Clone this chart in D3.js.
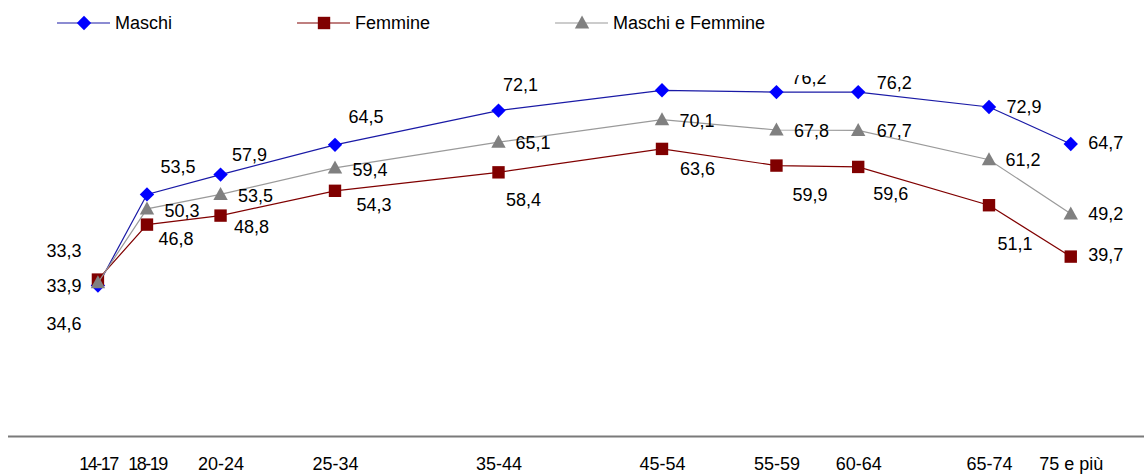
<!DOCTYPE html>
<html>
<head>
<meta charset="utf-8">
<script src="https://cdn.jsdelivr.net/npm/d3@7"></script>
<style>
  html, body { margin: 0; padding: 0; background: #fff; }
  svg { display: block; }
  text { font-family: "Liberation Sans", Arial, sans-serif; font-size: 18px; fill: #000; }
</style>
</head>
<body>
<svg id="chart" width="1144" height="476"></svg>
<script>
// Age classes and the centre of each class on the age axis
const classes = ["14-17", "18-19", "20-24", "25-34", "35-44", "45-54", "55-59", "60-64", "65-74", "75 e più"];
const classCentre = [15.5, 18.5, 23, 30, 40, 50, 57, 62, 70, 75];

// Percentages by class
const maschi = [33.3, 53.5, 57.9, 64.5, 72.1, 76.6, 76.2, 76.2, 72.9, 64.7];
const femmine = [34.6, 46.8, 48.8, 54.3, 58.4, 63.6, 59.9, 59.6, 51.1, 39.7];
const totale = [33.9, 50.3, 53.5, 59.4, 65.1, 70.1, 67.8, 67.7, 61.2, 49.2];

// Where each value label sits relative to its marker (pixels, label centre)
const labelNudge = {
  maschi:  [[-34, -35], [31, -28], [29, -20], [31, -28], [22, -26], [31, -28], [32.5, -15], [36, -10], [35, 0], [35, -1]],
  femmine: [[-34, 44], [29, 14], [31, 11], [39, 14], [25, 27], [35.5, 20], [33.5, 28.5], [32.5, 27], [26, 38.5], [35, -2.4]],
  totale:  [[-34, 3], [35, 1.5], [35, 1], [35, 1.5], [34.5, 0], [35, 1], [35, 1], [36, 0.5], [34, 0], [35, 0]]
};

const series = [
  { key: "maschi",  name: "Maschi",            values: maschi,  line: "#1a1aa6", fill: "#0000ff", symbol: "diamond" },
  { key: "femmine", name: "Femmine",           values: femmine, line: "#800000", fill: "#800000", symbol: "square" },
  { key: "totale",  name: "Maschi e Femmine",  values: totale,  line: "#9a9a9a", fill: "#808080", symbol: "triangle" }
];

const svg = d3.select("#chart");
const plotTop = 75, plotBottom = 435.5;

const x = d3.scaleLinear().domain([10, 80]).range([8, 1152.5]);
const y = d3.scaleLinear().domain([0, 80]).range([plotBottom, plotTop]);

const it = d3.formatLocale({ decimal: ",", thousands: ".", grouping: [3], currency: ["€", ""] });
const fmt = it.format(".1f");

// Marker shapes
function markerPath(kind) {
  if (kind === "diamond") return "M0,-7.2L7.2,0L0,7.2L-7.2,0Z";
  if (kind === "square") return "M-6.2,-6.2H6.2V6.2H-6.2Z";
  return "M0,-7.4L7.2,5.6H-7.2Z";
}

svg.append("defs").append("clipPath").attr("id", "plot-clip")
  .append("rect").attr("x", 0).attr("y", plotTop).attr("width", 1144).attr("height", plotBottom - plotTop + 40);

// Category axis along the bottom
const xAxis = d3.axisBottom(x)
  .tickValues(classCentre)
  .tickFormat((d, i) => classes[i])
  .tickSize(0)
  .tickPadding(20.5);

const axisG = svg.append("g")
  .attr("transform", `translate(0,${plotBottom + 1})`)
  .call(xAxis);
axisG.select(".domain").attr("stroke", "#7a7a7a").attr("stroke-width", 2)
  .attr("d", `M${x(10)},0H1144`);
axisG.selectAll("text")
  .attr("font-family", "'Liberation Sans', Arial, sans-serif")
  .attr("font-size", 18)
  .attr("fill", "#000")
  // the narrow "1" glyphs make these labels tighter
  .style("letter-spacing", (d, i) => classes[i].includes("1") ? "-1.5px" : null);

// Lines and markers, series by series
const lineGen = d3.line().x((d, i) => x(classCentre[i])).y(d => y(d));

series.forEach(s => {
  const g = svg.append("g").attr("class", "series-" + s.key);
  g.append("path")
    .datum(s.values)
    .attr("d", lineGen)
    .attr("fill", "none")
    .attr("stroke", s.line)
    .attr("stroke-width", 1.2);
  g.selectAll("path.marker")
    .data(s.values)
    .join("path")
    .attr("class", "marker")
    .attr("d", markerPath(s.symbol))
    .attr("transform", (d, i) => `translate(${x(classCentre[i])},${y(d)})`)
    .attr("fill", s.fill);
});

// Value labels, clipped to the plot area
const labels = svg.append("g").attr("clip-path", "url(#plot-clip)");
series.forEach(s => {
  labels.selectAll("text.lbl-" + s.key)
    .data(s.values)
    .join("text")
    .attr("class", "lbl-" + s.key)
    .attr("x", (d, i) => x(classCentre[i]) + labelNudge[s.key][i][0])
    .attr("y", (d, i) => y(d) + labelNudge[s.key][i][1])
    .attr("dy", "0.36em")
    .attr("text-anchor", "middle")
    .text(d => fmt(d));
});

// Legend
const legend = svg.append("g").attr("class", "legend");
let lx = 57;
series.forEach(s => {
  const g = legend.append("g").attr("transform", `translate(${lx},23)`);
  g.append("line").attr("x1", 0).attr("x2", 53).attr("y1", 0).attr("y2", 0)
    .attr("stroke", s.line).attr("stroke-width", 1.2);
  g.append("path").attr("d", markerPath(s.symbol)).attr("transform", "translate(27,0)").attr("fill", s.fill);
  const t = g.append("text").attr("x", 58).attr("y", 0).attr("dy", "0.36em").text(s.name);
  lx += 58 + t.node().getComputedTextLength() + 125;
});
</script>
</body>
</html>
